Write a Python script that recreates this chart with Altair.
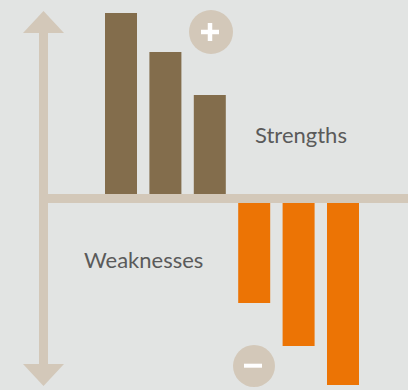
import altair as alt
import pandas as pd

# Data
groups = ["Strengths", "Strengths", "Strengths", "Weaknesses", "Weaknesses", "Weaknesses"]
positions = [0, 1, 2, 3, 4, 5]
values = [185.5, 146.5, 103.5, -104.5, -147.5, -186.5]
labels = ["Strengths", "Weaknesses"]

BG = "#e2e4e3"
BROWN = "#836d4c"
ORANGE = "#ec7405"
BEIGE = "#d3c8b9"
TEXT = "#5a5a5a"

df = pd.DataFrame({"pos": positions, "value": values, "group": groups})

xscale = alt.Scale(domain=[-121 / 44.4, 287 / 44.4], nice=False, zero=False, padding=0)
yscale = alt.Scale(domain=[-191.5, 198.5], nice=False, zero=False, padding=0)

bars = alt.Chart(df).mark_bar(size=32).encode(
    x=alt.X("pos:Q", scale=xscale, axis=None),
    y=alt.Y("value:Q", scale=yscale, axis=None),
    color=alt.Color("group:N", scale=alt.Scale(domain=labels, range=[BROWN, ORANGE]), legend=None),
)

one = alt.Data(values=[{}])

baseline = alt.Chart(one).mark_rule(strokeWidth=9, color=BEIGE).encode(
    x=alt.value(43.5), x2=alt.value(408), y=alt.value(198.5)
)
shaft = alt.Chart(one).mark_rule(strokeWidth=9, color=BEIGE).encode(
    x=alt.value(43.5), y=alt.value(30), y2=alt.value(367)
)
head_up = alt.Chart(one).mark_point(
    shape="M-1,0.5366L0,-0.5366L1,0.5366Z", filled=True, size=1681, color=BEIGE, opacity=1
).encode(x=alt.value(43.5), y=alt.value(22))
head_down = alt.Chart(one).mark_point(
    shape="M-1,-0.5366L0,0.5366L1,-0.5366Z", filled=True, size=1681, color=BEIGE, opacity=1
).encode(x=alt.value(43.5), y=alt.value(375))

circ_plus = alt.Chart(one).mark_point(
    shape="circle", filled=True, size=1936, color=BEIGE, opacity=1
).encode(x=alt.value(211), y=alt.value(32))
circ_minus = alt.Chart(one).mark_point(
    shape="circle", filled=True, size=1764, color=BEIGE, opacity=1
).encode(x=alt.value(254), y=alt.value(366))

plus_h = alt.Chart(one).mark_rule(strokeWidth=4.5, color="white").encode(
    x=alt.value(201), x2=alt.value(219), y=alt.value(32)
)
plus_v = alt.Chart(one).mark_rule(strokeWidth=4.5, color="white").encode(
    x=alt.value(210), y=alt.value(23), y2=alt.value(41)
)
minus = alt.Chart(one).mark_rule(strokeWidth=4, color="white").encode(
    x=alt.value(244), x2=alt.value(262), y=alt.value(365.7)
)

txt_s = alt.Chart(one).mark_text(
    text=labels[0], align="left", baseline="alphabetic", font="Lato", fontSize=22, color=TEXT
).encode(x=alt.value(255), y=alt.value(143))
txt_w = alt.Chart(one).mark_text(
    text=labels[1], align="left", baseline="alphabetic", font="Lato", fontSize=22, color=TEXT
).encode(x=alt.value(84), y=alt.value(268))

chart = alt.layer(
    bars, baseline, shaft, head_up, head_down, circ_plus, circ_minus,
    plus_h, plus_v, minus, txt_s, txt_w
).properties(
    width=408, height=390, background=BG, padding=0,
    autosize=alt.AutoSizeParams(type="none")
).configure_view(stroke=None)

chart.save("out.html", embed_options={"renderer": "svg", "actions": False})
